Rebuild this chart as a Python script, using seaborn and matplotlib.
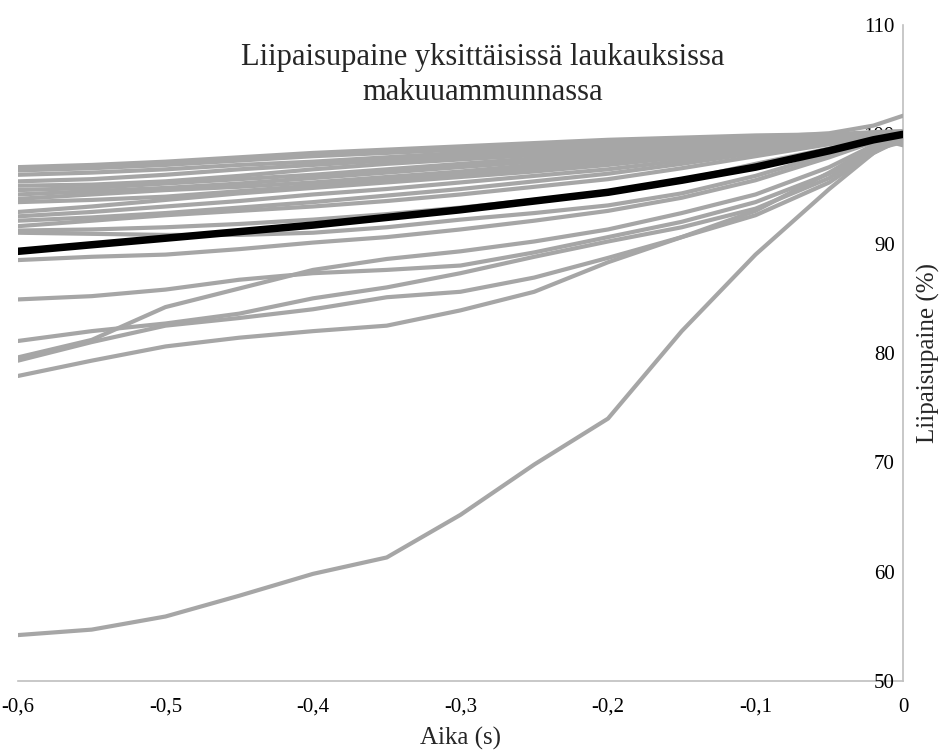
import pandas as pd
import numpy as np
import matplotlib
matplotlib.use("Agg")
import matplotlib.pyplot as plt
import seaborn as sns

# Aika (s) -pisteet, joista käyrät on luettu
x_pts = [-0.6, -0.55, -0.5, -0.45, -0.4, -0.35, -0.3, -0.25, -0.2, -0.15, -0.1, -0.05, -0.02, 0.0]

# Yksittäiset laukaukset (harmaat)
u1 = [97.0, 97.2, 97.5, 97.9, 98.3, 98.6, 98.9, 99.2, 99.5, 99.7, 99.9, 100.0, 100.2, 100.3]
u2 = [96.7, 96.9, 97.2, 97.6, 98.0, 98.3, 98.6, 98.9, 99.2, 99.5, 99.7, 99.9, 100.1, 100.0]
u3 = [96.3, 96.5, 96.8, 97.2, 97.5, 97.9, 98.3, 98.7, 99.1, 99.4, 99.7, 100.1, 100.8, 101.7]
u4 = [95.7, 95.9, 96.3, 96.8, 97.2, 97.6, 98.0, 98.4, 98.8, 99.2, 99.5, 99.9, 100.1, 100.1]
u5 = [95.3, 95.4, 95.7, 96.2, 96.8, 97.3, 97.7, 98.1, 98.5, 99.0, 99.4, 99.8, 100.0, 99.4]
u6 = [94.9, 95.1, 95.5, 95.9, 96.3, 96.8, 97.3, 97.8, 98.3, 98.8, 99.3, 99.7, 100.0, 100.2]
u7 = [94.5, 94.8, 95.1, 95.5, 96.0, 96.5, 97.0, 97.5, 98.0, 98.6, 99.2, 99.7, 100.0, 99.8]
u8 = [94.1, 94.5, 94.9, 95.2, 95.6, 96.1, 96.6, 97.2, 97.8, 98.4, 99.0, 99.6, 99.9, 100.0]
u9 = [93.8, 94.0, 94.3, 94.8, 95.3, 95.8, 96.3, 96.9, 97.5, 98.2, 98.9, 99.5, 99.9, 99.2]
u10 = [92.9, 93.4, 94.0, 94.6, 95.1, 95.6, 96.1, 96.6, 97.2, 97.9, 98.7, 99.4, 99.8, 100.1]
u11 = [92.5, 92.9, 93.4, 93.9, 94.5, 95.0, 95.6, 96.2, 96.8, 97.6, 98.5, 99.3, 99.8, 99.7]
u12 = [92.1, 92.4, 92.8, 93.3, 93.8, 94.4, 95.0, 95.7, 96.4, 97.3, 98.3, 99.2, 99.7, 100.0]
u13 = [91.6, 92.1, 92.6, 93.0, 93.4, 93.9, 94.5, 95.2, 95.9, 96.9, 98.0, 99.1, 99.7, 99.0]
u14 = [91.2, 91.3, 91.5, 91.8, 92.2, 92.7, 93.3, 94.0, 94.7, 95.8, 97.3, 98.7, 99.5, 99.9]
u15 = [88.5, 88.8, 89.0, 89.5, 90.1, 90.6, 91.3, 92.1, 93.0, 94.2, 95.8, 97.9, 99.3, 99.6]
u16 = [91.0, 90.9, 90.8, 90.8, 91.0, 91.5, 92.2, 92.8, 93.5, 94.6, 96.2, 98.2, 99.4, 99.8]
l_b = [84.9, 85.2, 85.8, 86.7, 87.3, 87.6, 88.0, 89.2, 90.6, 92.0, 93.8, 96.4, 98.8, 100.0]
l_c = [79.6, 81.2, 84.2, 85.9, 87.6, 88.6, 89.3, 90.2, 91.3, 92.8, 94.5, 97.0, 99.0, 99.6]
l_d = [81.1, 82.0, 82.7, 83.6, 85.0, 86.0, 87.3, 88.8, 90.2, 91.5, 93.2, 96.0, 98.6, 99.3]
l_e = [79.3, 81.0, 82.5, 83.2, 84.0, 85.1, 85.6, 86.9, 88.7, 90.6, 92.6, 95.6, 98.3, 99.8]
l_f = [77.9, 79.3, 80.6, 81.4, 82.0, 82.5, 83.9, 85.6, 88.3, 90.6, 93.0, 96.5, 98.9, 99.5]
l_a = [54.2, 54.7, 55.9, 57.8, 59.8, 61.3, 65.2, 69.8, 74.0, 82.0, 89.0, 95.0, 98.3, 99.6]

shots = [u1, u2, u3, u4, u5, u6, u7, u8, u9, u10, u11, u12, u13, u14, u15, u16,
         l_b, l_c, l_d, l_e, l_f, l_a]

# Keskiarvo (musta)
mean_curve = [89.3, 89.9, 90.5, 91.1, 91.7, 92.4, 93.1, 93.9, 94.7, 95.8, 97.0, 98.5, 99.5, 100.0]

x_ticks = [-0.6, -0.5, -0.4, -0.3, -0.2, -0.1, 0.0]
x_labels = ["-0,6", "-0,5", "-0,4", "-0,3", "-0,2", "-0,1", "0"]
y_ticks = [50, 60, 70, 80, 90, 100, 110]

# pitkä muoto seabornia varten
rows = []
for i, s in enumerate(shots):
    for xv, yv in zip(x_pts, s):
        rows.append((i, xv, yv))
df = pd.DataFrame(rows, columns=["laukaus", "aika", "paine"])
df_mean = pd.DataFrame({"aika": x_pts, "paine": mean_curve})

sns.set_theme(style="white")
plt.rcParams["font.family"] = ["Liberation Serif", "DejaVu Serif"]

fig = plt.figure(figsize=(9.46, 7.51), dpi=100)
ax = fig.add_axes([18 / 946, 70 / 751, 885 / 946, 656 / 751])

sns.lineplot(data=df, x="aika", y="paine", units="laukaus", estimator=None,
             color="#a6a6a6", linewidth=3.0, ax=ax)
sns.lineplot(data=df_mean, x="aika", y="paine", color="black", linewidth=5.4, ax=ax)

ax.set_xlim(-0.6, 0)
ax.set_ylim(50, 110)
ax.set_xticks(x_ticks)
ax.set_xticklabels(x_labels)
ax.set_yticks(y_ticks)

for sp in ["top", "right"]:
    ax.spines[sp].set_visible(False)
ax.spines["left"].set_position(("data", 0))
for sp in ["left", "bottom"]:
    ax.spines[sp].set_color("#bfbfbf")
    ax.spines[sp].set_linewidth(1.2)
    ax.spines[sp].set_zorder(0)

ax.tick_params(axis="both", length=0, labelsize=15, colors="black")
ax.tick_params(axis="x", pad=12)
ax.tick_params(axis="y", pad=6)

ax.set_xlabel("Aika (s)", fontsize=18)
ax.xaxis.set_label_coords(0.5, -0.07)
ax.set_ylabel("Liipaisupaine (%)", fontsize=18)
ax.yaxis.set_label_position("right")
ax.yaxis.set_label_coords(1.016, 0.5)

fig.text(483 / 946, 1 - 75 / 751, "Liipaisupaine yksittäisissä laukauksissa\nmakuuammunnassa",
         ha="center", va="center", fontsize=22, linespacing=1.25)

fig.savefig("out.png", dpi=100)
